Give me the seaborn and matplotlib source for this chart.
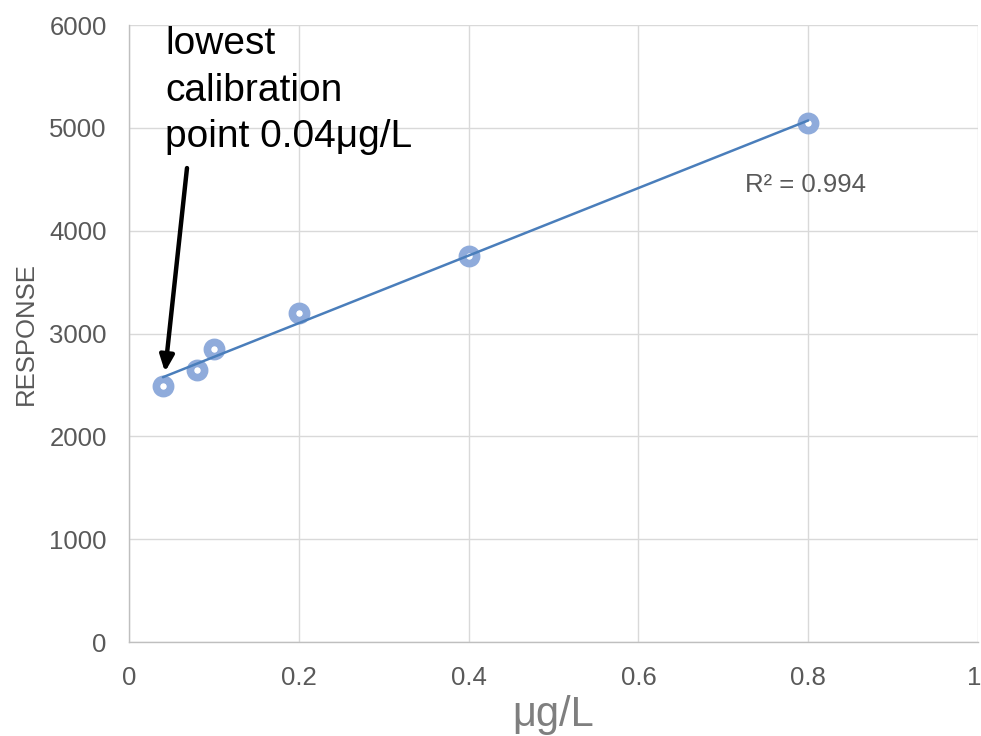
import numpy as np
import pandas as pd
import matplotlib
matplotlib.use("Agg")
import matplotlib.pyplot as plt
import matplotlib.transforms as mtransforms
import seaborn as sns

conc = [0.04, 0.08, 0.1, 0.2, 0.4, 0.8]
response = [2490, 2645, 2845, 3200, 3755, 5050]
x_ticks = [0, 0.2, 0.4, 0.6, 0.8, 1]
y_ticks = [0, 1000, 2000, 3000, 4000, 5000, 6000]

df = pd.DataFrame({"conc": conc, "response": response})

sns.set_theme(style="white")
plt.rcParams['font.family'] = ['Liberation Sans', 'DejaVu Sans']

fig = plt.figure(figsize=(9.81, 7.36), dpi=100)
ax = fig.add_axes([0.1315, 0.1277, 0.8655, 0.8383])

sns.scatterplot(data=df, x="conc", y="response", ax=ax, s=105, marker="o",
                facecolor="white", edgecolor="#8FABDB", linewidth=5.5, zorder=3)
sns.regplot(data=df, x="conc", y="response", ax=ax, scatter=False, ci=None,
            line_kws=dict(color="#4A7EBB", linewidth=1.8, zorder=4))

ax.set_xlim(0, 1)
ax.set_ylim(0, 6000)
ax.set_xticks(x_ticks)
ax.set_xticklabels([f"{t:g}" for t in x_ticks])
ax.set_yticks(y_ticks)
ax.grid(True, color="#D9D9D9", linewidth=1)
ax.set_axisbelow(True)
for s in ["top", "right"]:
    ax.spines[s].set_visible(False)
for s in ["left", "bottom"]:
    ax.spines[s].set_color("#BFBFBF")
    ax.spines[s].set_linewidth(1)
ax.tick_params(axis="both", labelsize=18.5, colors="#595959", length=0)
ax.tick_params(axis="x", pad=17)
ax.tick_params(axis="y", pad=16)
last = ax.get_xticklabels()[-1]
last.set_transform(last.get_transform() + mtransforms.ScaledTranslation(-4 / 100, 0, fig.dpi_scale_trans))
ax.set_xlabel("μg/L", fontsize=30, color="#7F7F7F", labelpad=4)
ax.set_ylabel("RESPONSE", fontsize=18.5, color="#595959", labelpad=8)

ax.text(0.7256, 4444, "R² = 0.994", fontsize=18.5, color="#595959", va="center", ha="left")
ax.annotate("", xy=(0.0424, 2626), xytext=(0.0683, 4609),
            arrowprops=dict(arrowstyle="-|>,head_length=0.8,head_width=0.35",
                            color="black", lw=3.2, shrinkA=0, shrinkB=0))
ax.text(0.0424, 5990, "lowest\ncalibration\npoint 0.04μg/L", fontsize=28, color="black",
        va="top", ha="left", linespacing=1.38)

fig.savefig("out.png", dpi=100)
